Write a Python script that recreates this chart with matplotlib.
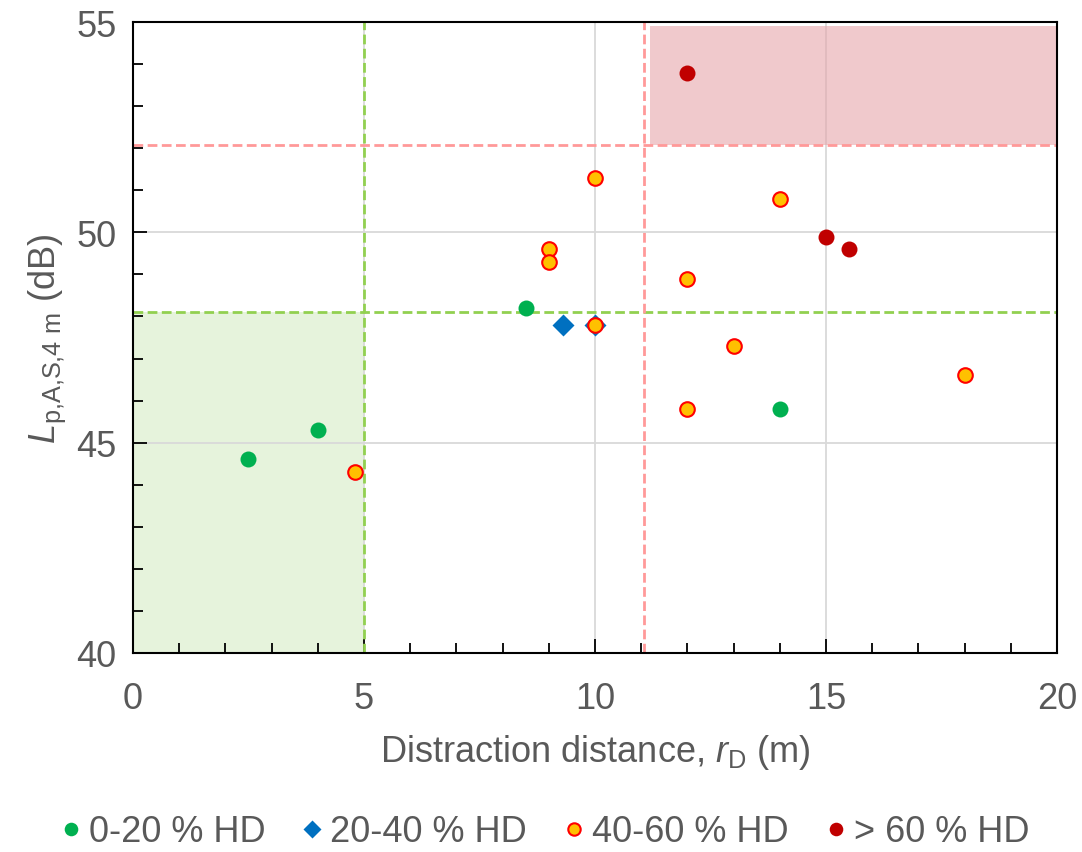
import matplotlib
matplotlib.use('Agg')
import matplotlib.pyplot as plt
from matplotlib.patches import Rectangle
from matplotlib.ticker import MultipleLocator

plt.rcParams['font.family'] = ['Liberation Sans', 'DejaVu Sans']
plt.rcParams['mathtext.fontset'] = 'custom'
plt.rcParams['mathtext.rm'] = 'Liberation Sans'
plt.rcParams['mathtext.it'] = 'Liberation Sans:italic'

# data
hd_0_20_x = [2.5, 4.0, 8.5, 14.0]
hd_0_20_y = [44.6, 45.3, 48.2, 45.8]
hd_20_40_x = [9.3, 10.0]
hd_20_40_y = [47.8, 47.8]
hd_40_60_x = [4.8, 9.0, 9.0, 10.0, 10.0, 12.0, 12.0, 13.0, 14.0, 18.0]
hd_40_60_y = [44.3, 49.6, 49.3, 51.3, 47.8, 48.9, 45.8, 47.3, 50.8, 46.6]
hd_60_x = [12.0, 15.0, 15.5]
hd_60_y = [53.8, 49.9, 49.6]

# threshold lines
green_x, green_y = 5.0, 48.1
red_x, red_y = 11.05, 52.08

text_col = '#595959'
fs = 26

fig = plt.figure(figsize=(10.82, 8.53), dpi=100)
ax = fig.add_axes([0.1229, 0.2333, 0.854, 0.7397])

# shaded zones
ax.add_patch(Rectangle((0, 40), green_x, green_y - 40, facecolor='#e6f3dc',
                       edgecolor='none', zorder=0))
ax.add_patch(Rectangle((11.18, red_y), 20 - 11.18, 54.9 - red_y, facecolor='#e6a6aa',
                       alpha=0.6, edgecolor='none', zorder=2))

dash = (0, (3.5, 1.6))
ax.axvline(green_x, color='#92d050', ls=dash, lw=2, zorder=3)
ax.axhline(green_y, color='#92d050', ls=dash, lw=2, zorder=3)
ax.axvline(red_x, color='#ff9999', ls=dash, lw=2, zorder=3)
ax.axhline(red_y, color='#ff9999', ls=dash, lw=2, zorder=3)

ax.plot(hd_0_20_x, hd_0_20_y, 'o', color='#00b050', ms=11.5, mec='none',
        label='0-20 % HD', zorder=5)
ax.plot(hd_20_40_x, hd_20_40_y, 'D', color='#0070c0', ms=11, mec='none',
        label='20-40 % HD', zorder=5)
ax.plot(hd_40_60_x, hd_40_60_y, 'o', color='#ffc000', ms=10.5, mec='#ff0000',
        mew=1.5, label='40-60 % HD', zorder=6)
ax.plot(hd_60_x, hd_60_y, 'o', color='#c00000', ms=11.5, mec='none',
        label='> 60 % HD', zorder=5)

ax.set_xlim(0, 20)
ax.set_ylim(40, 55)
ax.xaxis.set_major_locator(MultipleLocator(5))
ax.xaxis.set_minor_locator(MultipleLocator(1))
ax.yaxis.set_major_locator(MultipleLocator(5))
ax.yaxis.set_minor_locator(MultipleLocator(1))
ax.tick_params(which='both', direction='in', labelsize=fs, labelcolor=text_col,
               color='black', width=1.3)
ax.tick_params(axis='x', which='major', length=10, pad=20)
ax.tick_params(axis='y', which='major', length=10, pad=12)
ax.tick_params(which='minor', length=7)
ax.grid(True, which='major', color='#d9d9d9', lw=1.3, zorder=1)
ax.set_axisbelow(True)
for s in ax.spines.values():
    s.set_color('black')
    s.set_linewidth(1.5)
    s.set_zorder(7)

ax.set_xlabel(r'Distraction distance, $\mathit{r}_\mathrm{D}$ (m)', fontsize=fs,
              color=text_col, labelpad=12)
ax.set_ylabel(r'$\mathit{L}_\mathrm{p{,}A{,}S{,}4\ m}$ (dB)', fontsize=fs,
              color=text_col, labelpad=6)

leg = fig.legend(loc='lower center', bbox_to_anchor=(0.5, -0.035), ncol=4,
                 frameon=False, fontsize=fs, handletextpad=0.0, columnspacing=0.8,
                 handlelength=1.0, markerscale=0.85)
for t in leg.get_texts():
    t.set_color(text_col)

fig.savefig('out.png', dpi=100)
